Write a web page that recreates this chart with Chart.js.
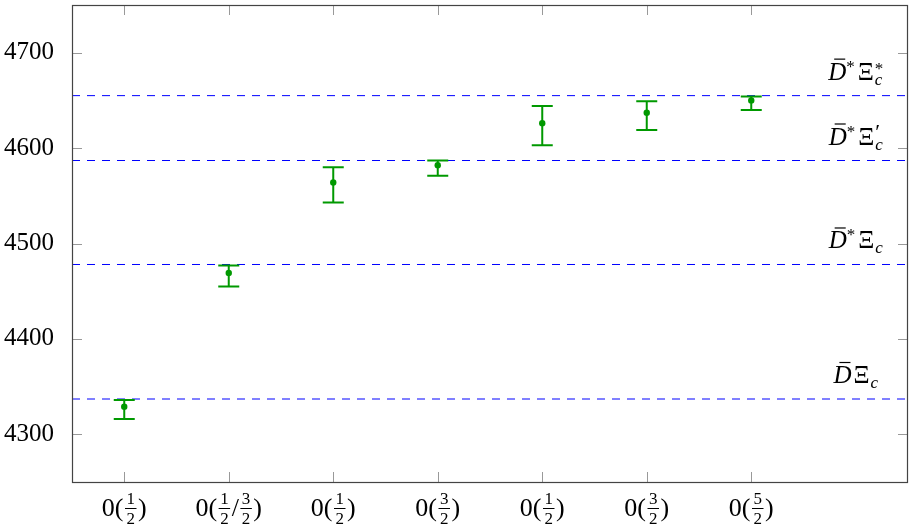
<!DOCTYPE html>
<html>
<head>
<meta charset="utf-8">
<script src="https://cdn.jsdelivr.net/npm/chart.js@4.4.0/dist/chart.umd.min.js"></script>
<style>
  html, body { margin: 0; padding: 0; background: #fff; }
</style>
</head>
<body>
<canvas id="massChart" width="912" height="528"></canvas>
<script>
// state index along the x axis and the label under each tick
const positions = [1, 2, 3, 4, 5, 6, 7];
const xLabels = ['0(1/2)', '0(1/2/3/2)', '0(1/2)', '0(3/2)', '0(1/2)', '0(3/2)', '0(5/2)'];

// masses (MeV) with upper / lower ends of the error bars
const massCentral = [4329, 4469, 4564, 4582, 4626, 4637, 4650];
const massUpper = [4336, 4477, 4580, 4587, 4644, 4649, 4654];
const massLower = [4316, 4455, 4543, 4571, 4603, 4619, 4640];

// thresholds: value, superscript on D-bar, superscript on Xi_c
const thresholdValues = [4337, 4478, 4587, 4655];
const thresholdDSup = ['', '*', '*', '*'];
const thresholdXiSup = ['', '', '\u2032', '*'];

const yTicks = [4300, 4400, 4500, 4600, 4700];

const GREEN = '#009900';
const SERIF = '"Liberation Serif", "DejaVu Serif", serif';

function drawTickLabel(ctx, cx, label) {
  const inner = label.slice(2, -1).split('/');
  const fracs = [];
  for (let i = 0; i < inner.length; i += 2) fracs.push([inner[i], inner[i + 1]]);
  const big = '26px ' + SERIF;
  const small = '17px ' + SERIF;
  const base = 516;

  ctx.font = big;
  const w0 = ctx.measureText('0(').width;
  const wClose = ctx.measureText(')').width;
  const wSlash = ctx.measureText('/').width;
  ctx.font = small;
  const fw = fracs.map(f => Math.max(ctx.measureText(f[0]).width, ctx.measureText(f[1]).width) + 4);
  let total = w0 + wClose + fw.reduce((a, b) => a + b, 0) + (fracs.length - 1) * (wSlash + 2) + 2;

  let x = cx - total / 2;
  ctx.fillStyle = '#000';
  ctx.textBaseline = 'alphabetic';
  ctx.textAlign = 'left';
  ctx.font = big;
  ctx.fillText('0(', x, base);
  x += w0 + 1;
  fracs.forEach((f, i) => {
    if (i > 0) {
      ctx.font = big;
      ctx.fillText('/', x + 1, base);
      x += wSlash + 2;
    }
    const c = x + fw[i] / 2;
    ctx.font = small;
    ctx.textAlign = 'center';
    ctx.fillText(f[0], c, 504);
    ctx.fillText(f[1], c, 524);
    ctx.textAlign = 'left';
    ctx.strokeStyle = '#000';
    ctx.lineWidth = 1;
    ctx.beginPath();
    ctx.moveTo(x + 0.5, 508.5);
    ctx.lineTo(x + fw[i] - 0.5, 508.5);
    ctx.stroke();
    x += fw[i];
  });
  ctx.font = big;
  ctx.fillText(')', x + 1, base);
}

function drawThresholdLabel(ctx, cx, baseline, dSup, xiSup) {
  const it = 'italic 25px ' + SERIF;
  const rm = '25px ' + SERIF;
  const smallIt = 'italic 17px ' + SERIF;
  const smallRm = xiSup === '\u2032' ? '22px ' + SERIF : '17px ' + SERIF;
  ctx.font = it;
  const wD = ctx.measureText('D').width;
  ctx.font = '17px ' + SERIF;
  const wDs = dSup ? ctx.measureText(dSup).width + 1 : 0;
  ctx.font = rm;
  const wXi = ctx.measureText('\u039E').width;
  ctx.font = smallIt;
  const wc = ctx.measureText('c').width;
  ctx.font = smallRm;
  const wXs = xiSup ? ctx.measureText(xiSup).width : 0;
  const total = wD + wDs + 2 + wXi + 1 + Math.max(wc, wXs);

  let x = cx - total / 2;
  ctx.fillStyle = '#000';
  ctx.textAlign = 'left';
  ctx.textBaseline = 'alphabetic';
  ctx.font = it;
  ctx.fillText('D', x, baseline);
  ctx.strokeStyle = '#000';
  ctx.lineWidth = 1.2;
  ctx.beginPath();
  ctx.moveTo(x + 6, baseline - 20.5);
  ctx.lineTo(x + wD - 1, baseline - 20.5);
  ctx.stroke();
  x += wD;
  if (dSup) {
    ctx.font = '17px ' + SERIF;
    ctx.fillText(dSup, x, baseline - 8);
    x += wDs;
  }
  x += 2;
  ctx.font = rm;
  ctx.fillText('\u039E', x, baseline);
  x += wXi + 1;
  ctx.font = smallIt;
  ctx.fillText('c', x, baseline + 5);
  if (xiSup) {
    ctx.font = smallRm;
    ctx.fillText(xiSup, x, baseline - 6);
  }
}

const decorPlugin = {
  id: 'decor',
  afterDatasetsDraw(chart) {
    const ctx = chart.ctx;
    const xs = chart.scales.x;
    const ys = chart.scales.y;
    const a = chart.chartArea;
    ctx.save();

    // error bars
    ctx.strokeStyle = GREEN;
    ctx.lineWidth = 2;
    positions.forEach((p, i) => {
      const px = xs.getPixelForValue(p);
      const top = ys.getPixelForValue(massUpper[i]);
      const bot = ys.getPixelForValue(massLower[i]);
      ctx.beginPath();
      ctx.moveTo(px, top);
      ctx.lineTo(px, bot);
      ctx.moveTo(px - 10.5, top);
      ctx.lineTo(px + 10.5, top);
      ctx.moveTo(px - 10.5, bot);
      ctx.lineTo(px + 10.5, bot);
      ctx.stroke();
    });

    // inner tick marks
    ctx.strokeStyle = '#999';
    ctx.lineWidth = 1;
    ctx.beginPath();
    yTicks.forEach(v => {
      const py = Math.round(ys.getPixelForValue(v)) + 0.5;
      ctx.moveTo(a.left, py);
      ctx.lineTo(a.left + 10, py);
      ctx.moveTo(a.right - 10, py);
      ctx.lineTo(a.right, py);
    });
    positions.forEach(p => {
      const px = Math.round(xs.getPixelForValue(p)) + 0.5;
      ctx.moveTo(px, a.bottom);
      ctx.lineTo(px, a.bottom - 10);
      ctx.moveTo(px, a.top);
      ctx.lineTo(px, a.top + 10);
    });
    ctx.stroke();

    // frame
    ctx.strokeStyle = '#444';
    ctx.lineWidth = 1.2;
    ctx.strokeRect(Math.round(a.left) + 0.5, Math.round(a.top) + 0.5,
      Math.round(a.right - a.left) - 1, Math.round(a.bottom - a.top));

    // x tick labels
    positions.forEach((p, i) => drawTickLabel(ctx, xs.getPixelForValue(p), xLabels[i]));

    // threshold names
    thresholdValues.forEach((v, i) => {
      drawThresholdLabel(ctx, xs.getPixelForValue(8), ys.getPixelForValue(v) - 16,
        thresholdDSup[i], thresholdXiSup[i]);
    });
    ctx.restore();
  }
};

const datasets = [{
  type: 'scatter',
  data: positions.map((p, i) => ({ x: p, y: massCentral[i] })),
  pointRadius: 3.2,
  pointBackgroundColor: GREEN,
  pointBorderWidth: 0
}];
thresholdValues.forEach(v => {
  datasets.push({
    type: 'line',
    data: [{ x: 0.5, y: v }, { x: 8.5, y: v }],
    borderColor: '#0000ff',
    borderWidth: 1,
    borderDash: [8, 7],
    pointRadius: 0,
    fill: false
  });
});

new Chart(document.getElementById('massChart').getContext('2d'), {
  type: 'scatter',
  data: { datasets: datasets },
  plugins: [decorPlugin],
  options: {
    responsive: false,
    animation: false,
    layout: { padding: { top: 5, right: 1, left: 0, bottom: 0 } },
    plugins: {
      legend: { display: false },
      tooltip: { enabled: false }
    },
    scales: {
      x: {
        type: 'linear',
        min: 0.5,
        max: 8.5,
        grid: { display: false },
        border: { display: false },
        ticks: { display: false },
        afterFit: s => { s.height = 46; s.paddingLeft = 0; s.paddingRight = 0; }
      },
      y: {
        min: 4250,
        max: 4750,
        grid: { display: false },
        border: { display: false },
        afterBuildTicks: s => { s.ticks = yTicks.map(v => ({ value: v })); },
        afterFit: s => { s.width = 72; s.paddingTop = 0; s.paddingBottom = 0; },
        ticks: {
          padding: 10,
          color: '#000',
          font: { family: SERIF, size: 25 },
          callback: v => String(v)
        }
      }
    }
  }
});
</script>
</body>
</html>
